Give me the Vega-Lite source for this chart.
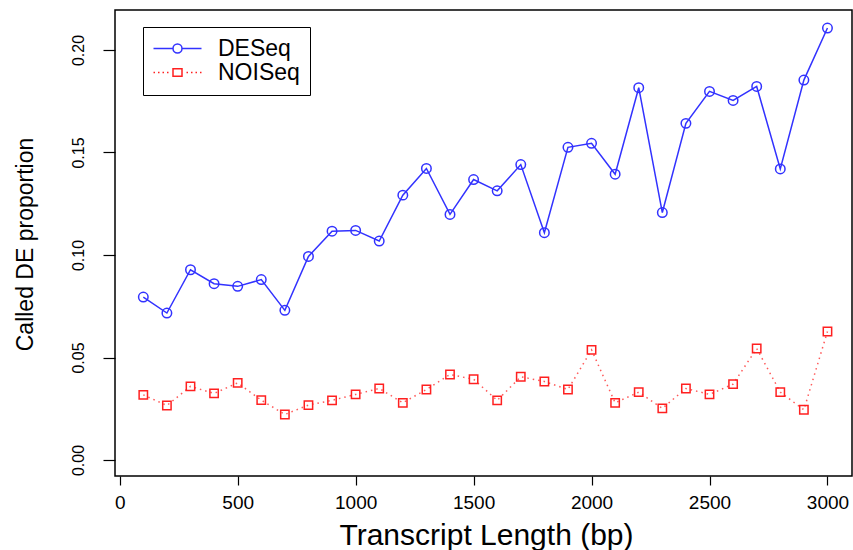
{
  "$schema": "https://vega.github.io/schema/vega-lite/v6.json",
  "autosize": {"type": "none"},
  "width": 737,
  "height": 466,
  "padding": {"left": 115, "top": 10, "right": 1, "bottom": 74},
  "background": "white",
  "config": {
    "view": {"stroke": "black", "strokeWidth": 1.5},
    "axis": {"grid": false, "domain": false, "tickColor": "black", "tickWidth": 1.2, "labelColor": "black", "titleColor": "black", "titleFontWeight": "normal"}
  },
  "data": {
    "values": [
      {"len": 100, "method": "DESeq", "prop": 0.0795},
      {"len": 200, "method": "DESeq", "prop": 0.0717},
      {"len": 300, "method": "DESeq", "prop": 0.0928},
      {"len": 400, "method": "DESeq", "prop": 0.0860},
      {"len": 500, "method": "DESeq", "prop": 0.0847},
      {"len": 600, "method": "DESeq", "prop": 0.0880},
      {"len": 700, "method": "DESeq", "prop": 0.0730},
      {"len": 800, "method": "DESeq", "prop": 0.0993},
      {"len": 900, "method": "DESeq", "prop": 0.1116},
      {"len": 1000, "method": "DESeq", "prop": 0.1120},
      {"len": 1100, "method": "DESeq", "prop": 0.1068},
      {"len": 1200, "method": "DESeq", "prop": 0.1292},
      {"len": 1300, "method": "DESeq", "prop": 0.1422},
      {"len": 1400, "method": "DESeq", "prop": 0.1198},
      {"len": 1500, "method": "DESeq", "prop": 0.1368},
      {"len": 1600, "method": "DESeq", "prop": 0.1313},
      {"len": 1700, "method": "DESeq", "prop": 0.1441},
      {"len": 1800, "method": "DESeq", "prop": 0.1109},
      {"len": 1900, "method": "DESeq", "prop": 0.1525},
      {"len": 2000, "method": "DESeq", "prop": 0.1545},
      {"len": 2100, "method": "DESeq", "prop": 0.1394},
      {"len": 2200, "method": "DESeq", "prop": 0.1816},
      {"len": 2300, "method": "DESeq", "prop": 0.1207},
      {"len": 2400, "method": "DESeq", "prop": 0.1642},
      {"len": 2500, "method": "DESeq", "prop": 0.1798},
      {"len": 2600, "method": "DESeq", "prop": 0.1754},
      {"len": 2700, "method": "DESeq", "prop": 0.1822},
      {"len": 2800, "method": "DESeq", "prop": 0.1420},
      {"len": 2900, "method": "DESeq", "prop": 0.1853},
      {"len": 3000, "method": "DESeq", "prop": 0.2107},
      {"len": 100, "method": "NOISeq", "prop": 0.0318},
      {"len": 200, "method": "NOISeq", "prop": 0.0266},
      {"len": 300, "method": "NOISeq", "prop": 0.0359},
      {"len": 400, "method": "NOISeq", "prop": 0.0325},
      {"len": 500, "method": "NOISeq", "prop": 0.0376},
      {"len": 600, "method": "NOISeq", "prop": 0.0292},
      {"len": 700, "method": "NOISeq", "prop": 0.0222},
      {"len": 800, "method": "NOISeq", "prop": 0.0268},
      {"len": 900, "method": "NOISeq", "prop": 0.0291},
      {"len": 1000, "method": "NOISeq", "prop": 0.0320},
      {"len": 1100, "method": "NOISeq", "prop": 0.0349},
      {"len": 1200, "method": "NOISeq", "prop": 0.0279},
      {"len": 1300, "method": "NOISeq", "prop": 0.0344},
      {"len": 1400, "method": "NOISeq", "prop": 0.0417},
      {"len": 1500, "method": "NOISeq", "prop": 0.0394},
      {"len": 1600, "method": "NOISeq", "prop": 0.0291},
      {"len": 1700, "method": "NOISeq", "prop": 0.0406},
      {"len": 1800, "method": "NOISeq", "prop": 0.0383},
      {"len": 1900, "method": "NOISeq", "prop": 0.0344},
      {"len": 2000, "method": "NOISeq", "prop": 0.0537},
      {"len": 2100, "method": "NOISeq", "prop": 0.0279},
      {"len": 2200, "method": "NOISeq", "prop": 0.0331},
      {"len": 2300, "method": "NOISeq", "prop": 0.0252},
      {"len": 2400, "method": "NOISeq", "prop": 0.0349},
      {"len": 2500, "method": "NOISeq", "prop": 0.0320},
      {"len": 2600, "method": "NOISeq", "prop": 0.0370},
      {"len": 2700, "method": "NOISeq", "prop": 0.0544},
      {"len": 2800, "method": "NOISeq", "prop": 0.0331},
      {"len": 2900, "method": "NOISeq", "prop": 0.0245},
      {"len": 3000, "method": "NOISeq", "prop": 0.0627}
    ]
  },
  "encoding": {
    "x": {
      "field": "len", "type": "quantitative",
      "scale": {"domain": [-20, 3104], "nice": false, "zero": false},
      "axis": {
        "title": "Transcript Length (bp)",
        "values": [0, 500, 1000, 1500, 2000, 2500, 3000], "format": "d",
        "tickSize": 9, "labelFont": "Liberation Sans", "labelFontSize": 19,
        "labelPadding": 8, "labelFlush": false,
        "titleFont": "Liberation Sans", "titleFontSize": 30,
        "titleBaseline": "alphabetic", "titleX": 371, "titleY": 68
      }
    },
    "y": {
      "field": "prop", "type": "quantitative",
      "scale": {"domain": [-0.0078, 0.2195], "nice": false, "zero": false},
      "axis": {
        "title": "Called DE proportion",
        "values": [0, 0.05, 0.1, 0.15, 0.2], "format": ".2f",
        "tickSize": 12, "labelAngle": -90, "labelAlign": "center", "labelBaseline": "alphabetic",
        "labelPadding": 20, "labelFont": "Liberation Sans", "labelFontSize": 16,
        "titleFont": "Liberation Sans", "titleFontSize": 23,
        "titleAngle": -90, "titleAlign": "center", "titleBaseline": "alphabetic",
        "titleX": -83, "titleY": 234
      }
    },
    "color": {
      "field": "method", "type": "nominal",
      "scale": {"domain": ["DESeq", "NOISeq"], "range": ["#3232ff", "#ff2020"]},
      "legend": {
        "title": null, "orient": "none", "legendX": 28, "legendY": 17,
        "padding": 10, "strokeColor": "black", "fillColor": "white",
        "symbolSize": 100, "symbolOffset": 13, "labelOffset": 29, "rowPadding": 0,
        "symbolStrokeWidth": 1.5, "symbolOpacity": 1, "symbolFillColor": "transparent",
        "labelFont": "Liberation Sans", "labelFontSize": 23, "labelColor": "black"
      }
    }
  },
  "layer": [
    {
      "transform": [{"filter": "datum.method === 'DESeq'"}],
      "mark": {"type": "line", "strokeWidth": 1.5}
    },
    {
      "transform": [{"filter": "datum.method === 'NOISeq'"}],
      "mark": {"type": "line", "strokeWidth": 1.5, "strokeDash": [1.5, 4], "strokeOpacity": 0.75}
    },
    {
      "transform": [{"filter": "datum.method === 'DESeq'"}],
      "mark": {"type": "point", "shape": "circle", "filled": false, "size": 90, "strokeWidth": 1.5, "opacity": 1}
    },
    {
      "transform": [{"filter": "datum.method === 'NOISeq'"}],
      "mark": {"type": "point", "shape": "square", "filled": false, "size": 70, "strokeWidth": 1.5, "opacity": 1}
    },
    {
      "mark": {"type": "point", "filled": false, "opacity": 0},
      "encoding": {
        "shape": {
          "field": "method", "type": "nominal",
          "scale": {
            "domain": ["DESeq", "NOISeq"],
            "range": [
              "M-4.8,0H-0.9M0.9,0H4.8M-0.9,0A0.9,0.9 0 1,0 0.9,0A0.9,0.9 0 1,0 -0.9,0",
              "M-4.8,0h0.3M-3.9,0h0.3M-3.0,0h0.3M-2.1,0h0.3M1.8,0h0.3M2.7,0h0.3M3.6,0h0.3M4.5,0h0.3M-0.9,-0.75H0.9V0.75H-0.9Z"
            ]
          }
        }
      }
    }
  ]
}
